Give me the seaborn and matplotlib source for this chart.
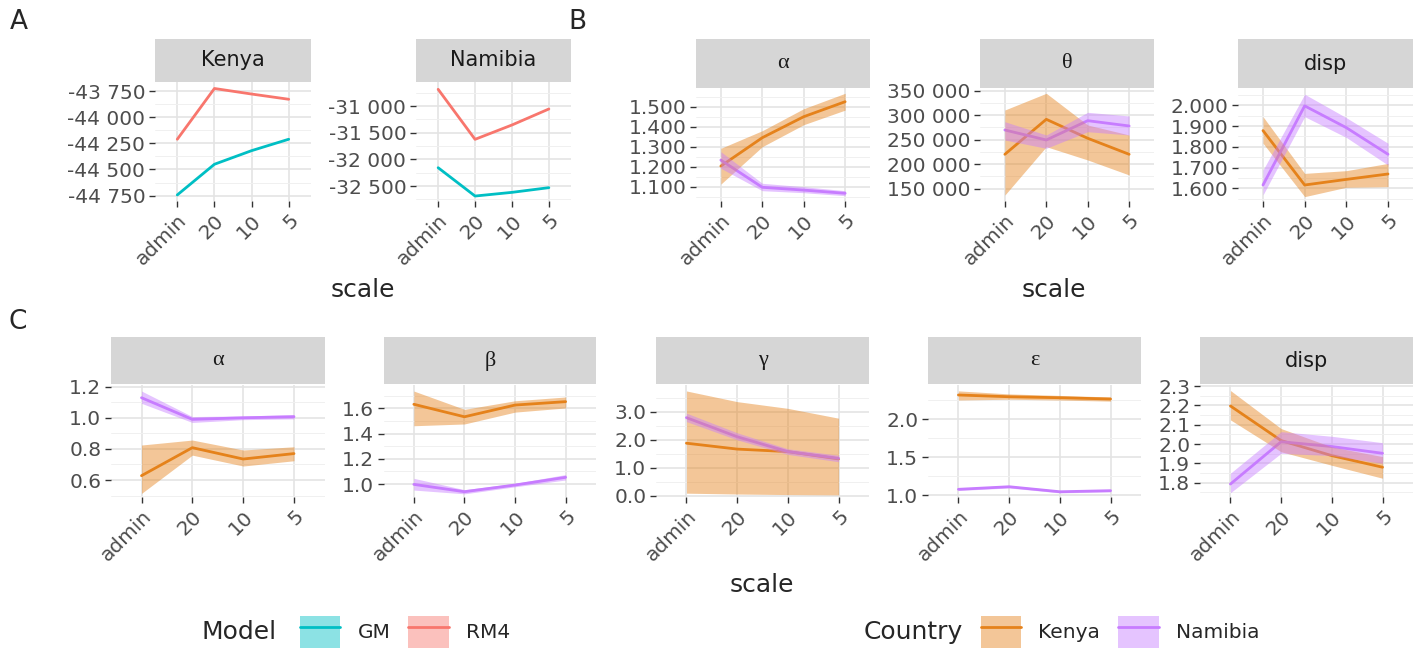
import numpy as np
import pandas as pd
import seaborn as sns
import matplotlib
matplotlib.use("Agg")
import matplotlib.pyplot as plt
from matplotlib.ticker import AutoMinorLocator, FuncFormatter
from matplotlib.patches import Patch
from matplotlib.lines import Line2D
from matplotlib.legend_handler import HandlerTuple

scales = ["admin", "20", "10", "5"]

# A: fit per model and country
a_kenya_gm = [-44743, -44450, -44320, -44211]
a_kenya_rm4 = [-44211, -43726, -43779, -43829]
a_namibia_gm = [-32157, -32688, -32619, -32531]
a_namibia_rm4 = [-30687, -31625, -31356, -31056]

# B: estimates with intervals (mean, lo, hi)
b_alpha_ken = [1.203, 1.345, 1.450, 1.525]
b_alpha_ken_lo = [1.113, 1.300, 1.410, 1.483]
b_alpha_ken_hi = [1.292, 1.380, 1.490, 1.567]
b_alpha_nam = [1.233, 1.097, 1.083, 1.067]
b_alpha_nam_lo = [1.192, 1.080, 1.070, 1.055]
b_alpha_nam_hi = [1.275, 1.117, 1.100, 1.080]

b_theta_ken = [220200, 291600, 252900, 220200]
b_theta_ken_lo = [137000, 235700, 208600, 178000]
b_theta_ken_hi = [310600, 344700, 280000, 259600]
b_theta_nam = [269800, 249400, 288800, 278000]
b_theta_nam_lo = [249400, 232400, 266300, 259600]
b_theta_nam_hi = [286700, 259600, 305900, 298400]

b_disp_ken = [1.878, 1.616, 1.643, 1.669]
b_disp_ken_lo = [1.817, 1.560, 1.605, 1.608]
b_disp_ken_hi = [1.945, 1.672, 1.685, 1.720]
b_disp_nam = [1.616, 1.997, 1.892, 1.764]
b_disp_nam_lo = [1.568, 1.945, 1.845, 1.712]
b_disp_nam_hi = [1.688, 2.053, 1.940, 1.817]

# C: estimates with intervals (mean, lo, hi)
c_alpha_ken = [0.628, 0.808, 0.735, 0.770]
c_alpha_ken_lo = [0.514, 0.760, 0.690, 0.724]
c_alpha_ken_hi = [0.825, 0.857, 0.793, 0.814]
c_alpha_nam = [1.129, 0.990, 1.000, 1.007]
c_alpha_nam_lo = [1.093, 0.970, 0.988, 0.993]
c_alpha_nam_hi = [1.172, 1.008, 1.012, 1.020]

c_beta_ken = [1.632, 1.533, 1.626, 1.653]
c_beta_ken_lo = [1.462, 1.476, 1.570, 1.603]
c_beta_ken_hi = [1.737, 1.592, 1.660, 1.690]
c_beta_nam = [0.997, 0.939, 0.992, 1.053]
c_beta_nam_lo = [0.952, 0.922, 0.978, 1.032]
c_beta_nam_hi = [1.045, 0.955, 1.005, 1.075]

c_gamma_ken = [1.88, 1.67, 1.58, 1.32]
c_gamma_ken_lo = [0.10, 0.07, 0.05, 0.04]
c_gamma_ken_hi = [3.74, 3.36, 3.12, 2.77]
c_gamma_nam = [2.79, 2.11, 1.58, 1.34]
c_gamma_nam_lo = [2.65, 2.00, 1.48, 1.22]
c_gamma_nam_hi = [2.95, 2.25, 1.68, 1.45]

c_eps_ken = [2.316, 2.293, 2.280, 2.263]
c_eps_ken_lo = [2.250, 2.260, 2.250, 2.235]
c_eps_ken_hi = [2.370, 2.330, 2.310, 2.290]
c_eps_nam = [1.075, 1.109, 1.043, 1.057]
c_eps_nam_lo = [1.060, 1.093, 1.028, 1.042]
c_eps_nam_hi = [1.090, 1.125, 1.058, 1.072]

c_disp_ken = [2.197, 2.018, 1.940, 1.880]
c_disp_ken_lo = [2.125, 1.960, 1.890, 1.823]
c_disp_ken_hi = [2.277, 2.080, 1.985, 1.935]
c_disp_nam = [1.793, 2.012, 1.987, 1.952]
c_disp_nam_lo = [1.748, 1.952, 1.940, 1.900]
c_disp_nam_hi = [1.849, 2.064, 2.040, 2.007]

model_colors = {"GM": "#00BFC4", "RM4": "#F8766D"}
country_colors = {"Kenya": "#E5821B", "Namibia": "#C77CFF"}

sns.set_theme(style="white")
plt.rcParams["font.family"] = ["DejaVu Sans"]

W, H = 1417, 649
fig = plt.figure(figsize=(W / 100, H / 100), dpi=100)

STRIP = "#D6D6D6"
TICK_COL = "#4D4D4D"
BAND_ALPHA = 0.45
TICK_SIZE = 14.5


def add_px(x0, y0, x1, y1):
    return fig.add_axes([x0 / W, 1 - y1 / H, (x1 - x0) / W, (y1 - y0) / H])


def space_fmt(v, _):
    return f"{v:,.0f}".replace(",", " ")


def dec_fmt(n):
    return FuncFormatter(lambda v, _: f"{v:.{n}f}")


def panel(box, strip_top, title, greek, groups, colors, ylim, yticks, fmt):
    x0, y0, x1, y1 = box
    # facet strip
    sax = add_px(x0, strip_top, x1, y0)
    sax.set_facecolor(STRIP)
    sax.set_xticks([])
    sax.set_yticks([])
    for s in sax.spines.values():
        s.set_visible(False)
    if greek:
        sax.text(0.5, 0.5, title, ha="center", va="center", fontsize=16,
                 family=["Liberation Serif", "DejaVu Serif"], color="#1A1A1A")
    else:
        sax.text(0.5, 0.5, title, ha="center", va="center", fontsize=15,
                 color="#1A1A1A")

    ax = add_px(x0, y0, x1, y1)
    pos = np.arange(len(scales))
    rows = []
    for name, mean, lo, hi in groups:
        rows.append(pd.DataFrame({"pos": pos, "value": mean, "group": name}))
        if lo is not None:
            ax.fill_between(pos, lo, hi, color=colors[name], alpha=BAND_ALPHA,
                            lw=0, zorder=3)
    df = pd.concat(rows, ignore_index=True)
    sns.lineplot(data=df, x="pos", y="value", hue="group",
                 hue_order=[g[0] for g in groups], palette=colors,
                 estimator=None, sort=False, legend=False, linewidth=2,
                 ax=ax, zorder=2)

    ax.set_xlim(-0.6, len(scales) - 0.4)
    ax.set_ylim(*ylim)
    ax.set_xticks(pos)
    ax.set_xticklabels(scales, rotation=45, ha="right", rotation_mode="anchor")
    ax.set_yticks(yticks)
    ax.yaxis.set_major_formatter(fmt)
    ax.yaxis.set_minor_locator(AutoMinorLocator(2))
    ax.set_xlabel("")
    ax.set_ylabel("")
    ax.set_facecolor("white")
    for s in ax.spines.values():
        s.set_visible(False)
    ax.grid(which="major", color="#E4E4E4", lw=1.2, zorder=0)
    ax.grid(which="minor", axis="y", color="#F0F0F0", lw=0.7, zorder=0)
    ax.set_axisbelow(True)
    ax.tick_params(which="major", length=4, width=1, color="#333333",
                   labelsize=TICK_SIZE, labelcolor=TICK_COL, pad=3,
                   bottom=True, left=True)
    ax.tick_params(which="minor", length=0)
    return ax


RA = (39, 82, 201)
RB = (39, 88, 201)
RC = (337, 384.5, 497)

# --- A ---
panel((155, RA[1], 311, RA[2]), RA[0], "Kenya", False,
      [("GM", a_kenya_gm, None, None), ("RM4", a_kenya_rm4, None, None)],
      model_colors, (-44801, -43664), [-44750, -44500, -44250, -44000, -43750],
      FuncFormatter(space_fmt))
panel((416, RA[1], 571, RA[2]), RA[0], "Namibia", False,
      [("GM", a_namibia_gm, None, None), ("RM4", a_namibia_rm4, None, None)],
      model_colors, (-32781, -30550), [-32500, -32000, -31500, -31000],
      FuncFormatter(space_fmt))

# --- B ---
panel((696, RB[1], 870, RB[2]), RB[0], "α", True,
      [("Kenya", b_alpha_ken, b_alpha_ken_lo, b_alpha_ken_hi),
       ("Namibia", b_alpha_nam, b_alpha_nam_lo, b_alpha_nam_hi)],
      country_colors, (1.0285, 1.5935), [1.1, 1.2, 1.3, 1.4, 1.5], dec_fmt(3))
panel((980, RB[1], 1154, RB[2]), RB[0], "θ", True,
      [("Kenya", b_theta_ken, b_theta_ken_lo, b_theta_ken_hi),
       ("Namibia", b_theta_nam, b_theta_nam_lo, b_theta_nam_hi)],
      country_colors, (124900, 355500), [150000, 200000, 250000, 300000, 350000],
      FuncFormatter(space_fmt))
panel((1238, RB[1], 1413, RB[2]), RB[0], "disp", False,
      [("Kenya", b_disp_ken, b_disp_ken_lo, b_disp_ken_hi),
       ("Namibia", b_disp_nam, b_disp_nam_lo, b_disp_nam_hi)],
      country_colors, (1.539, 2.083), [1.6, 1.7, 1.8, 1.9, 2.0], dec_fmt(3))

# --- C ---
panel((111, RC[1], 324.5, RC[2]), RC[0], "α", True,
      [("Kenya", c_alpha_ken, c_alpha_ken_lo, c_alpha_ken_hi),
       ("Namibia", c_alpha_nam, c_alpha_nam_lo, c_alpha_nam_hi)],
      country_colors, (0.491, 1.214), [0.6, 0.8, 1.0, 1.2], dec_fmt(1))
panel((383.5, RC[1], 596, RC[2]), RC[0], "β", True,
      [("Kenya", c_beta_ken, c_beta_ken_lo, c_beta_ken_hi),
       ("Namibia", c_beta_nam, c_beta_nam_lo, c_beta_nam_hi)],
      country_colors, (0.897, 1.789), [1.0, 1.2, 1.4, 1.6], dec_fmt(1))
panel((656, RC[1], 869, RC[2]), RC[0], "γ", True,
      [("Kenya", c_gamma_ken, c_gamma_ken_lo, c_gamma_ken_hi),
       ("Namibia", c_gamma_nam, c_gamma_nam_lo, c_gamma_nam_hi)],
      country_colors, (-0.036, 3.97), [0.0, 1.0, 2.0, 3.0], dec_fmt(1))
panel((928, RC[1], 1141, RC[2]), RC[0], "ε", True,
      [("Kenya", c_eps_ken, c_eps_ken_lo, c_eps_ken_hi),
       ("Namibia", c_eps_nam, c_eps_nam_lo, c_eps_nam_hi)],
      country_colors, (0.974, 2.454), [1.0, 1.5, 2.0], dec_fmt(1))
panel((1200, RC[1], 1413, RC[2]), RC[0], "disp", False,
      [("Kenya", c_disp_ken, c_disp_ken_lo, c_disp_ken_hi),
       ("Namibia", c_disp_nam, c_disp_nam_lo, c_disp_nam_hi)],
      country_colors, (1.726, 2.308), [1.8, 1.9, 2.0, 2.1, 2.2, 2.3], dec_fmt(1))

# axis titles and panel tags
for x, y in [(363, 290), (1054, 290), (762, 585)]:
    fig.text(x / W, 1 - y / H, "scale", ha="center", va="center", fontsize=18)
for x, y, tag in [(10, 22, "A"), (568, 22, "B"), (8, 322, "C")]:
    fig.text(x / W, 1 - y / H, tag, ha="left", va="center", fontsize=19)


def legend_block(title, title_x, key_x, colors):
    yc = 1 - 632 / H
    fig.text(title_x / W, yc, title, fontsize=18, ha="left", va="center")
    handles = [(Patch(facecolor=c, alpha=BAND_ALPHA, lw=0),
                Line2D([], [], color=c, lw=2)) for c in colors.values()]
    fig.legend(handles, list(colors.keys()),
               handler_map={tuple: HandlerTuple(ndivide=1)},
               loc="center left", bbox_to_anchor=(key_x / W, yc),
               ncol=len(colors), frameon=False, fontsize=14.5,
               handlelength=2.0, handleheight=2.0, handletextpad=0.85,
               columnspacing=0.9, borderpad=0, borderaxespad=0)


legend_block("Model", 202, 300, model_colors)
legend_block("Country", 864, 981, country_colors)

fig.savefig("out.png", dpi=100)
plt.close()
